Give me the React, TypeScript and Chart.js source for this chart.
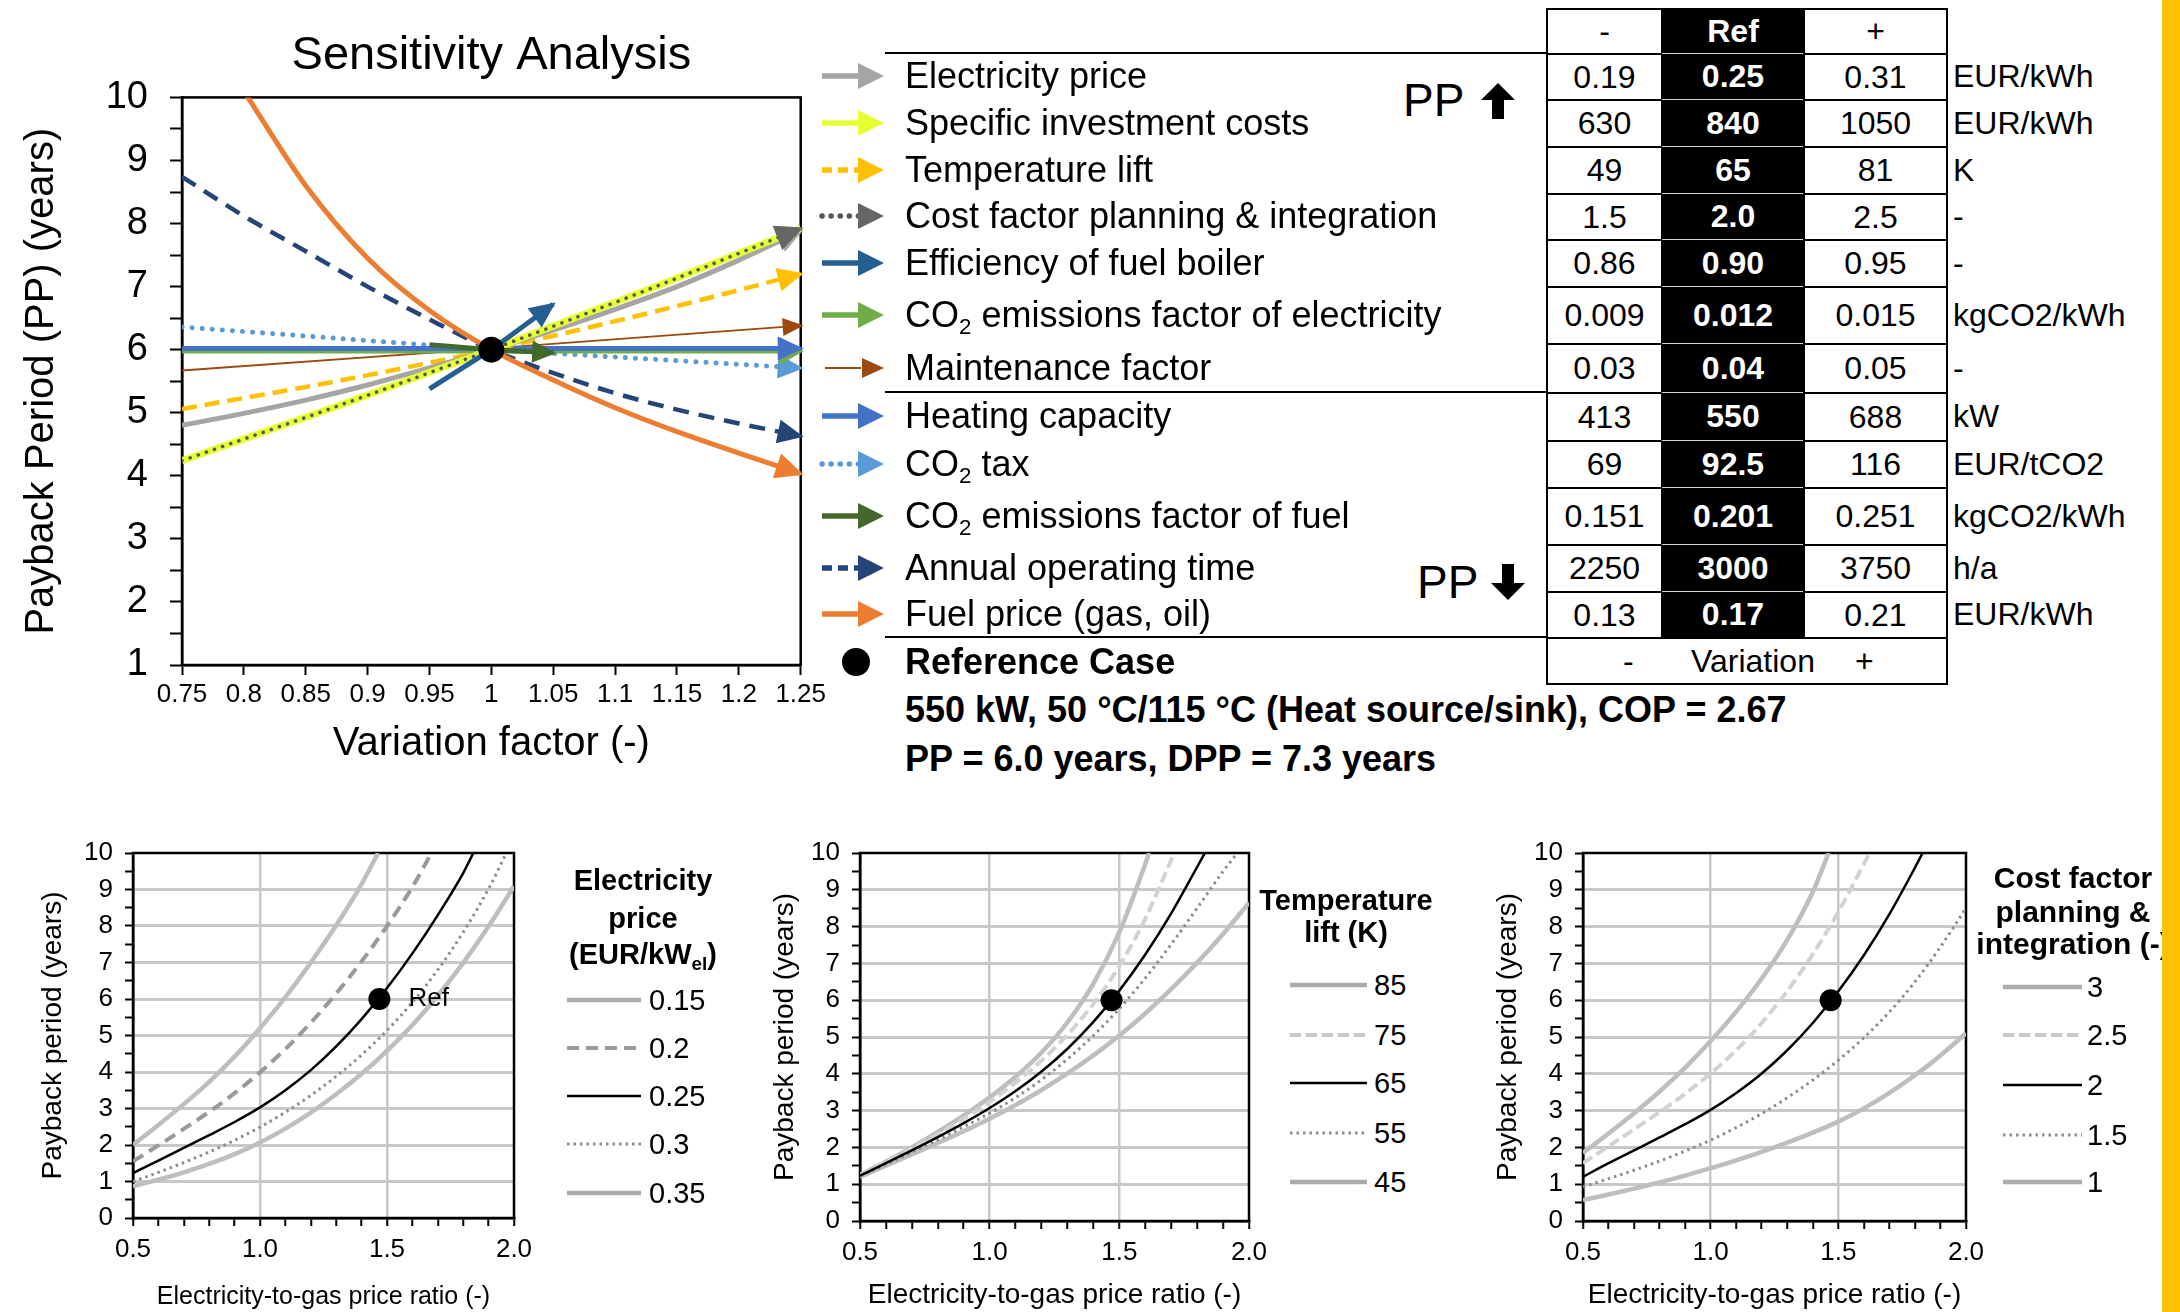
import React, { useEffect, useRef } from 'react';
import { Chart, registerables } from 'chart.js';

Chart.register(...registerables);

const FONT = "'Liberation Sans', Arial, Helvetica, sans-serif";
Chart.defaults.font.family = FONT;
Chart.defaults.color = '#000';

// ---------------- Sensitivity analysis (top chart) data ----------------
const variationTickLabels = ['0.75', '0.8', '0.85', '0.9', '0.95', '1', '1.05', '1.1', '1.15', '1.2', '1.25'];
const variationX = [0.75, 0.8, 0.85, 0.9, 0.95, 1.0, 1.05, 1.1, 1.15, 1.2, 1.25];
const ppElectricityPrice = [4.8, 4.99, 5.2, 5.44, 5.71, 6.0, 6.31, 6.64, 7.0, 7.42, 7.88];
const ppAnnualOperatingTime = [8.74, 8.12, 7.56, 7.0, 6.48, 6.0, 5.63, 5.31, 5.05, 4.83, 4.63];
const fuelX = [0.8, 0.85, 0.9, 0.95, 1.0, 1.05, 1.1, 1.15, 1.2, 1.25];
const ppFuelPrice = [10.1, 8.6, 7.45, 6.62, 6.0, 5.52, 5.08, 4.7, 4.36, 4.03];
const fiveX = [0.75, 0.875, 1.0, 1.125, 1.25];
const ppInvestmentCosts = [4.24, 5.1, 6.0, 6.94, 7.92];
const ppCostFactor = [4.24, 5.1, 6.0, 6.94, 7.92];
const ppTemperatureLift = [5.06, 5.5, 6.0, 6.57, 7.2];
const threeX = [0.75, 1.0, 1.25];
const ppMaintenance = [5.67, 6.02, 6.38];
const ppHeatingCapacity = [6.02, 6.02, 6.02];
const ppCo2Electricity = [5.98, 5.98, 5.98];
const ppCo2Tax = [6.36, 6.0, 5.71];
const shortX = [0.95, 1.0, 1.05];
const ppBoilerEfficiency = [5.38, 6.0, 6.72];
const ppCo2Fuel = [6.08, 6.0, 5.95];
const refVariation = 1.0;
const refPP = 6.0;

// legend / table
const paramNames = [
  'Electricity price', 'Specific investment costs', 'Temperature lift', 'Cost factor planning & integration',
  'Efficiency of fuel boiler', 'CO2 emissions factor of electricity', 'Maintenance factor', 'Heating capacity',
  'CO2 tax', 'CO2 emissions factor of fuel', 'Annual operating time', 'Fuel price (gas, oil)',
];
const lowValues = ['0.19', '630', '49', '1.5', '0.86', '0.009', '0.03', '413', '69', '0.151', '2250', '0.13'];
const refValues = ['0.25', '840', '65', '2.0', '0.90', '0.012', '0.04', '550', '92.5', '0.201', '3000', '0.17'];
const highValues = ['0.31', '1050', '81', '2.5', '0.95', '0.015', '0.05', '688', '116', '0.251', '3750', '0.21'];
const unitLabels = ['EUR/kWh', 'EUR/kWh', 'K', '-', '-', 'kgCO2/kWh', '-', 'kW', 'EUR/tCO2', 'kgCO2/kWh', 'h/a', 'EUR/kWh'];
const headerLabels = ['-', 'Ref', '+'];

// ---------------- Bottom charts data ----------------
const ratioTickLabels = ['0.5', '1.0', '1.5', '2.0'];
const refRatio = 1.47;

const ep015X = [0.5, 0.6, 0.7, 0.8, 0.9, 1.0, 1.1, 1.2, 1.3, 1.4, 1.465];
const ep015Y = [2.0, 2.55, 3.12, 3.73, 4.42, 5.2, 6.05, 7.0, 8.02, 9.15, 10.0];
const ep020X = [0.5, 0.6, 0.7, 0.8, 0.9, 1.0, 1.1, 1.2, 1.3, 1.4, 1.5, 1.6, 1.675];
const ep020Y = [1.55, 1.99, 2.44, 2.91, 3.42, 3.99, 4.63, 5.35, 6.15, 7.03, 8.0, 9.07, 10.0];
const ep025X = [0.5, 0.6, 0.7, 0.8, 0.9, 1.0, 1.1, 1.2, 1.3, 1.4, 1.5, 1.6, 1.7, 1.8, 1.84];
const ep025Y = [1.23, 1.57, 1.92, 2.27, 2.63, 3.03, 3.5, 4.05, 4.7, 5.45, 6.3, 7.25, 8.3, 9.45, 10.0];
const ep030X = [0.5, 0.6, 0.7, 0.8, 0.9, 1.0, 1.1, 1.2, 1.3, 1.4, 1.5, 1.6, 1.7, 1.8, 1.9, 1.97];
const ep030Y = [1.0, 1.25, 1.52, 1.81, 2.13, 2.49, 2.9, 3.36, 3.88, 4.47, 5.14, 5.91, 6.8, 7.83, 9.02, 10.0];
const ep035X = [0.5, 0.6, 0.7, 0.8, 0.9, 1.0, 1.1, 1.2, 1.3, 1.4, 1.5, 1.6, 1.7, 1.8, 1.9, 2.0];
const ep035Y = [0.87, 1.05, 1.25, 1.48, 1.75, 2.07, 2.45, 2.89, 3.39, 3.95, 4.58, 5.29, 6.09, 6.99, 7.99, 9.09];
const elecPriceLabels = ['0.15', '0.2', '0.25', '0.3', '0.35'];

const tl85X = [0.5, 0.6, 0.7, 0.8, 0.9, 1.0, 1.1, 1.2, 1.3, 1.4, 1.5, 1.6, 1.615];
const tl85Y = [1.25, 1.61, 2.0, 2.42, 2.87, 3.36, 3.92, 4.58, 5.4, 6.45, 7.85, 9.7, 10.0];
const tl75X = [0.5, 0.6, 0.7, 0.8, 0.9, 1.0, 1.1, 1.2, 1.3, 1.4, 1.5, 1.6, 1.7, 1.712];
const tl75Y = [1.25, 1.6, 1.97, 2.36, 2.78, 3.24, 3.76, 4.36, 5.06, 5.9, 6.93, 8.21, 9.81, 10.0];
const tl65X = [0.5, 0.6, 0.7, 0.8, 0.9, 1.0, 1.1, 1.2, 1.3, 1.4, 1.5, 1.6, 1.7, 1.8, 1.83];
const tl65Y = [1.23, 1.57, 1.92, 2.28, 2.66, 3.07, 3.53, 4.06, 4.68, 5.41, 6.26, 7.24, 8.36, 9.62, 10.0];
const tl55X = [0.5, 0.6, 0.7, 0.8, 0.9, 1.0, 1.1, 1.2, 1.3, 1.4, 1.5, 1.6, 1.7, 1.8, 1.9, 1.955];
const tl55Y = [1.22, 1.54, 1.87, 2.21, 2.56, 2.93, 3.35, 3.84, 4.4, 5.04, 5.77, 6.6, 7.52, 8.5, 9.5, 10.0];
const tl45X = [0.5, 0.6, 0.7, 0.8, 0.9, 1.0, 1.1, 1.2, 1.3, 1.4, 1.5, 1.6, 1.7, 1.8, 1.9, 2.0];
const tl45Y = [1.2, 1.5, 1.81, 2.12, 2.44, 2.78, 3.15, 3.56, 4.01, 4.5, 5.04, 5.64, 6.3, 7.02, 7.8, 8.65];
const tempLiftLabels = ['85', '75', '65', '55', '45'];

const cf3X = [0.5, 0.6, 0.7, 0.8, 0.9, 1.0, 1.1, 1.2, 1.3, 1.4, 1.462];
const cf3Y = [1.85, 2.38, 2.93, 3.52, 4.17, 4.89, 5.69, 6.59, 7.64, 8.94, 10.0];
const cf25X = [0.5, 0.6, 0.7, 0.8, 0.9, 1.0, 1.1, 1.2, 1.3, 1.4, 1.5, 1.6, 1.622];
const cf25Y = [1.57, 2.03, 2.49, 2.96, 3.46, 4.01, 4.64, 5.38, 6.25, 7.25, 8.4, 9.7, 10.0];
const cf2X = [0.5, 0.6, 0.7, 0.8, 0.9, 1.0, 1.1, 1.2, 1.3, 1.4, 1.5, 1.6, 1.7, 1.8, 1.83];
const cf2Y = [1.2, 1.57, 1.92, 2.27, 2.63, 3.02, 3.48, 4.01, 4.64, 5.38, 6.24, 7.22, 8.34, 9.6, 10.0];
const cf15X = [0.5, 0.6, 0.7, 0.8, 0.9, 1.0, 1.1, 1.2, 1.3, 1.4, 1.5, 1.6, 1.7, 1.8, 1.9, 2.0];
const cf15Y = [0.93, 1.15, 1.38, 1.63, 1.9, 2.2, 2.54, 2.92, 3.35, 3.83, 4.37, 4.98, 5.68, 6.5, 7.45, 8.5];
const cf1X = [0.5, 0.6, 0.7, 0.8, 0.9, 1.0, 1.1, 1.2, 1.3, 1.4, 1.5, 1.6, 1.7, 1.8, 1.9, 2.0];
const cf1Y = [0.57, 0.72, 0.88, 1.05, 1.235, 1.435, 1.65, 1.88, 2.13, 2.4, 2.7, 3.06, 3.48, 3.96, 4.5, 5.1];
const costFactorLabels = ['3', '2.5', '2', '1.5', '1'];

// ---------------- helpers ----------------
const pts = (xs: number[], ys: number[]) => xs.map((x, i) => ({ x, y: ys[i] }));

const arrowPlugin = {
  id: 'arrowheads',
  afterDatasetDraw(chart: any, args: any) {
    const ds = chart.data.datasets[args.index];
    if (!ds.arrowLen) return;
    const els = args.meta.data;
    if (!els || els.length < 2) return;
    const p = els[els.length - 1];
    const q = els[els.length - 2];
    let dx = p.x - q.x;
    let dy = p.y - q.y;
    if (p.cp1x !== undefined && Math.hypot(p.x - p.cp1x, p.y - p.cp1y) > 2) {
      dx = p.x - p.cp1x;
      dy = p.y - p.cp1y;
    }
    const d = Math.hypot(dx, dy) || 1;
    const ux = dx / d, uy = dy / d;
    const ext = ds.arrowExt ?? 3;
    const tx = p.x + ux * ext, ty = p.y + uy * ext;
    const bx = tx - ux * ds.arrowLen, by = ty - uy * ds.arrowLen;
    const hw = ds.arrowWidth / 2;
    const ctx = chart.ctx;
    ctx.save();
    ctx.fillStyle = ds.arrowColor || ds.borderColor;
    ctx.beginPath();
    ctx.moveTo(tx, ty);
    ctx.lineTo(bx - uy * hw, by + ux * hw);
    ctx.lineTo(bx + uy * hw, by - ux * hw);
    ctx.closePath();
    ctx.fill();
    ctx.restore();
  },
};

const framePlugin = {
  id: 'frame',
  beforeDatasetsDraw(chart: any, _args: any, opts: any) {
    const { left, right, top, bottom } = chart.chartArea;
    const ctx = chart.ctx;
    ctx.save();
    ctx.strokeStyle = opts.color || '#000';
    ctx.lineWidth = opts.width || 2;
    ctx.strokeRect(left, top, right - left, bottom - top);
    ctx.restore();
  },
};

const refLabelPlugin = {
  id: 'refLabel',
  afterDatasetsDraw(chart: any, _args: any, opts: any) {
    if (!opts || !opts.text) return;
    const ctx = chart.ctx;
    const x = chart.scales.x.getPixelForValue(opts.x);
    const y = chart.scales.y.getPixelForValue(opts.y);
    ctx.save();
    ctx.fillStyle = '#000';
    ctx.font = `${opts.size}px ${FONT}`;
    ctx.textAlign = 'left';
    ctx.textBaseline = 'middle';
    ctx.fillText(opts.text, x, y);
    ctx.restore();
  },
};

// style list for main series
type SeriesStyle = {
  key: string; color: string; width: number; dash?: number[]; round?: boolean;
  arrowLen: number; arrowWidth: number; arrowColor?: string; smooth?: boolean;
};
const styleFor: Record<string, SeriesStyle> = {
  elec: { key: 'elec', color: '#A5A5A5', width: 5, arrowLen: 26, arrowWidth: 24, smooth: true },
  invest: { key: 'invest', color: '#E6FF33', width: 7, arrowLen: 26, arrowWidth: 24, smooth: true },
  temp: { key: 'temp', color: '#FFC000', width: 4.5, dash: [15, 8], arrowLen: 26, arrowWidth: 24, smooth: true },
  cost: { key: 'cost', color: '#555555', width: 3.5, dash: [0.1, 8.5], round: true, arrowLen: 28, arrowWidth: 26, arrowColor: '#666666', smooth: true },
  eff: { key: 'eff', color: '#255E91', width: 5, arrowLen: 26, arrowWidth: 24 },
  co2el: { key: 'co2el', color: '#70AD47', width: 5, arrowLen: 24, arrowWidth: 28 },
  maint: { key: 'maint', color: '#9E480E', width: 1.8, arrowLen: 21, arrowWidth: 18 },
  heat: { key: 'heat', color: '#4472C4', width: 5, arrowLen: 26, arrowWidth: 24 },
  tax: { key: 'tax', color: '#5B9BD5', width: 5, dash: [0.1, 10], round: true, arrowLen: 26, arrowWidth: 24 },
  co2fuel: { key: 'co2fuel', color: '#43682B', width: 5, arrowLen: 24, arrowWidth: 22 },
  annual: { key: 'annual', color: '#264478', width: 4.5, dash: [16, 10], arrowLen: 26, arrowWidth: 24, smooth: true },
  fuel: { key: 'fuel', color: '#ED7D31', width: 5, arrowLen: 28, arrowWidth: 26, smooth: true },
};
const legendKeys = ['elec', 'invest', 'temp', 'cost', 'eff', 'co2el', 'maint', 'heat', 'tax', 'co2fuel', 'annual', 'fuel'];

function styledLine(label: string, data: any[], s: SeriesStyle) {
  return {
    label, data,
    borderColor: s.color, backgroundColor: s.color, borderWidth: s.width,
    borderDash: s.dash || [], borderCapStyle: s.round ? 'round' : 'butt',
    pointRadius: 0, pointHoverRadius: 0, fill: false,
    cubicInterpolationMode: s.smooth ? 'monotone' : 'default', tension: 0,
    arrowLen: s.arrowLen, arrowWidth: s.arrowWidth, arrowColor: s.arrowColor,
  };
}

function makeMainConfig(): any {
  const layers = [
    styledLine(paramNames[10], pts(variationX, ppAnnualOperatingTime), styleFor.annual),
    styledLine(paramNames[11], pts(fuelX, ppFuelPrice), styleFor.fuel),
    styledLine(paramNames[8], pts(threeX, ppCo2Tax), styleFor.tax),
    styledLine(paramNames[6], pts(threeX, ppMaintenance), styleFor.maint),
    styledLine(paramNames[5], pts(threeX, ppCo2Electricity), styleFor.co2el),
    styledLine(paramNames[7], pts(threeX, ppHeatingCapacity), styleFor.heat),
    styledLine(paramNames[2], pts(fiveX, ppTemperatureLift), styleFor.temp),
    styledLine(paramNames[0], pts(variationX, ppElectricityPrice), styleFor.elec),
    styledLine(paramNames[1], pts(fiveX, ppInvestmentCosts), styleFor.invest),
    styledLine(paramNames[3], pts(fiveX, ppCostFactor), styleFor.cost),
    styledLine(paramNames[9], pts(shortX, ppCo2Fuel), styleFor.co2fuel),
    styledLine(paramNames[4], pts(shortX, ppBoilerEfficiency), styleFor.eff),
    {
      label: 'Reference Case', data: [{ x: refVariation, y: refPP }], showLine: false,
      pointRadius: 13, pointHoverRadius: 13, pointBackgroundColor: '#000', pointBorderColor: '#000', borderWidth: 0,
    },
  ];
  const n = layers.length;
  const datasets = layers.map((d: any, i) => ({ ...d, order: n - i }));
  return {
    type: 'line',
    data: { datasets },
    options: {
      animation: false, responsive: false, maintainAspectRatio: false, events: [],
      layout: { padding: { left: 0, right: 27, top: 0, bottom: 32 } },
      plugins: {
        legend: { display: false },
        tooltip: { enabled: false },
        title: {
          display: true, text: 'Sensitivity Analysis', fullSize: false, color: '#000',
          font: { size: 47, weight: 'normal', family: FONT }, padding: { top: 28, bottom: 13 },
        },
        frame: { width: 2.5, color: '#000' },
      },
      scales: {
        x: {
          type: 'linear', min: 0.75, max: 1.25,
          ticks: {
            stepSize: 0.05, autoSkip: false, maxRotation: 0, minRotation: 0, padding: 4,
            font: { size: 26 }, color: '#000',
            callback: (v: number) => variationTickLabels[Math.round((v - 0.75) / 0.05)] ?? '',
          },
          grid: { drawOnChartArea: false, drawTicks: true, tickLength: 10, tickColor: '#000', tickWidth: 2 },
          border: { display: true, color: '#000', width: 2.5 },
          title: { display: true, text: 'Variation factor (-)', font: { size: 40 }, color: '#000', padding: 0 },
          afterFit: (s: any) => { s.height = 103; },
        },
        y: {
          type: 'linear', min: 1, max: 10,
          ticks: {
            stepSize: 0.5, autoSkip: false, padding: 22, font: { size: 38 }, color: '#000',
            callback: (v: number) => (Number.isInteger(v) ? String(v) : ''),
          },
          grid: { drawOnChartArea: false, drawTicks: true, tickLength: 12, tickColor: '#000', tickWidth: 2 },
          border: { display: true, color: '#000', width: 2.5 },
          title: { display: true, text: 'Payback Period (PP) (years)', font: { size: 40 }, color: '#000', padding: { top: 18, bottom: 0 } },
          afterFit: (s: any) => { s.width = 182; },
        },
      },
    },
    plugins: [framePlugin, arrowPlugin],
  };
}

type CurveStyle = { color: string; width: number; dash?: number[]; swatch?: string };
const lightSolid: CurveStyle = { color: '#BEBEBE', width: 4.5, swatch: '#ABABAB' };
const darkDashed: CurveStyle = { color: '#9A9A9A', width: 4, dash: [12, 7] };
const paleDashed: CurveStyle = { color: '#D2D2D2', width: 4, dash: [11, 5], swatch: '#C8C8C8' };
const greyDotted: CurveStyle = { color: '#8C8C8C', width: 3, dash: [2.5, 4] };
const blackSolid: CurveStyle = { color: '#000000', width: 2.5, swatch: '#000000' };

function curve(label: string, xs: number[], ys: number[], s: CurveStyle) {
  return {
    label, data: pts(xs, ys), borderColor: s.color, backgroundColor: s.color, borderWidth: s.width,
    borderDash: s.dash || [], pointRadius: 0, pointHoverRadius: 0, fill: false,
    cubicInterpolationMode: 'monotone',
  };
}

type Geom = { padTop: number; padRight: number; xHeight: number; xTitleSize: number; yTitlePad: number };

function makeBottomConfig(layers: any[], geom: Geom, refLabel: any): any {
  const all = [
    ...layers,
    {
      label: 'Ref', data: [{ x: refRatio, y: refPP }], showLine: false,
      pointRadius: 11, pointHoverRadius: 11, pointBackgroundColor: '#000', pointBorderColor: '#000', borderWidth: 0,
    },
  ];
  const n = all.length;
  const datasets = all.map((d: any, i) => ({ ...d, order: n - i }));
  return {
    type: 'line',
    data: { datasets },
    options: {
      animation: false, responsive: false, maintainAspectRatio: false, events: [],
      layout: { padding: { left: 0, right: geom.padRight, top: geom.padTop, bottom: 0 } },
      plugins: {
        legend: { display: false }, tooltip: { enabled: false },
        frame: { width: 2.5, color: '#000' },
        refLabel,
      },
      scales: {
        x: {
          type: 'linear', min: 0.5, max: 2.0,
          ticks: {
            stepSize: 0.1, autoSkip: false, maxRotation: 0, minRotation: 0, padding: 8,
            font: { size: 26 }, color: '#000',
            callback: (v: number) => {
              const r = Math.round(v * 10) / 10;
              const idx = [0.5, 1.0, 1.5, 2.0].indexOf(r);
              return idx >= 0 ? ratioTickLabels[idx] : '';
            },
          },
          grid: {
            color: (c: any) => {
              const r = c.tick ? Math.round(c.tick.value * 10) / 10 : 0;
              return r === 1 || r === 1.5 ? '#C8C8C8' : 'rgba(0,0,0,0)';
            },
            lineWidth: 2.5, drawTicks: true, tickLength: 8, tickColor: '#000', tickWidth: 2,
          },
          border: { display: true, color: '#000', width: 2.5 },
          title: { display: true, text: 'Electricity-to-gas price ratio (-)', font: { size: geom.xTitleSize }, color: '#000', padding: 0 },
          afterFit: (s: any) => { s.height = geom.xHeight; },
        },
        y: {
          type: 'linear', min: 0, max: 10,
          ticks: {
            stepSize: 0.5, autoSkip: false, padding: 12, font: { size: 26 }, color: '#000',
            callback: (v: number) => (Number.isInteger(v) ? String(v) : ''),
          },
          grid: {
            color: (c: any) => {
              const v = c.tick ? c.tick.value : 0;
              return Number.isInteger(v) && v > 0 && v < 10 ? '#C8C8C8' : 'rgba(0,0,0,0)';
            },
            lineWidth: 3, drawTicks: true, tickLength: 8, tickColor: '#000', tickWidth: 2,
          },
          border: { display: true, color: '#000', width: 2.5 },
          title: { display: true, text: 'Payback period (years)', font: { size: 28 }, color: '#000', padding: { top: geom.yTitlePad, bottom: 0 } },
          afterFit: (s: any) => { s.width = 133; },
        },
      },
    },
    plugins: [framePlugin, refLabelPlugin],
  };
}

function makeElecConfig() {
  return makeBottomConfig([
    curve(elecPriceLabels[0], ep015X, ep015Y, lightSolid),
    curve(elecPriceLabels[4], ep035X, ep035Y, lightSolid),
    curve(elecPriceLabels[1], ep020X, ep020Y, darkDashed),
    curve(elecPriceLabels[3], ep030X, ep030Y, greyDotted),
    curve(elecPriceLabels[2], ep025X, ep025Y, blackSolid),
  ], { padTop: 53, padRight: 31, xHeight: 94, xTitleSize: 25, yTitlePad: 36 }, { text: 'Ref', x: 1.585, y: refPP, size: 26 });
}
function makeTempConfig() {
  return makeBottomConfig([
    curve(tempLiftLabels[0], tl85X, tl85Y, lightSolid),
    curve(tempLiftLabels[4], tl45X, tl45Y, lightSolid),
    curve(tempLiftLabels[1], tl75X, tl75Y, paleDashed),
    curve(tempLiftLabels[3], tl55X, tl55Y, greyDotted),
    curve(tempLiftLabels[2], tl65X, tl65Y, blackSolid),
  ], { padTop: 53, padRight: 31, xHeight: 91, xTitleSize: 28, yTitlePad: 41 }, {});
}
function makeCostConfig() {
  return makeBottomConfig([
    curve(costFactorLabels[0], cf3X, cf3Y, lightSolid),
    curve(costFactorLabels[4], cf1X, cf1Y, lightSolid),
    curve(costFactorLabels[1], cf25X, cf25Y, paleDashed),
    curve(costFactorLabels[3], cf15X, cf15Y, greyDotted),
    curve(costFactorLabels[2], cf2X, cf2Y, blackSolid),
  ], { padTop: 53, padRight: 31, xHeight: 91, xTitleSize: 28, yTitlePad: 41 }, {});
}

function ChartCanvas({ left, top, width, height, make }: any) {
  const ref = useRef<HTMLCanvasElement | null>(null);
  useEffect(() => {
    const chart = new Chart(ref.current as HTMLCanvasElement, make());
    return () => chart.destroy();
  }, []);
  return (
    <canvas ref={ref} width={width} height={height}
      style={{ position: 'absolute', left, top, width, height, display: 'block' }} />
  );
}

function withSub(text: string) {
  const i = text.indexOf('CO2');
  if (i < 0) return text;
  return (
    <>
      {text.slice(0, i)}CO<sub style={{ fontSize: '0.62em', verticalAlign: '-0.3em', lineHeight: 0 }}>2</sub>{text.slice(i + 3)}
    </>
  );
}

function LegendArrow({ s, left, cy }: { s: SeriesStyle; left: number; cy: number }) {
  const thin = s.width < 3;
  return (
    <svg width={64} height={30} style={{ position: 'absolute', left, top: cy - 15, overflow: 'visible' }}>
      <line x1={thin ? 4 : 1} y1={15} x2={40} y2={15} stroke={s.color} strokeWidth={thin ? 2.2 : 5.5}
        strokeDasharray={s.dash ? (s.round ? '0.1 9' : '10 6') : undefined}
        strokeLinecap={s.round ? 'round' : 'butt'} />
      <polygon points={thin ? '41,5 63,15 41,25' : '37,2 63,15 37,28'} fill={s.arrowColor || s.color} />
    </svg>
  );
}

function BigArrow({ left, top, down }: { left: number; top: number; down?: boolean }) {
  return (
    <svg width={34} height={36} style={{ position: 'absolute', left, top, transform: down ? 'scaleY(-1)' : undefined }}>
      <polygon points="17,0 34,17 23,17 23,36 11,36 11,17 0,17" fill="#000" />
    </svg>
  );
}

const rowEdges = [8, 53, 99, 146, 193, 239, 286, 343, 392, 440, 487, 544, 591, 637, 685];
const colEdges = [1546, 1661, 1803, 1946];

function TopLegendAndTable() {
  const items: any[] = [];
  [53, 392, 637].forEach((y, i) => {
    items.push(<div key={'ln' + i} style={{ position: 'absolute', left: 885, top: y - 1, width: 1546 - 885, height: 2, background: '#000' }} />);
  });
  legendKeys.forEach((k, i) => {
    const cy = (rowEdges[i + 1] + rowEdges[i + 2]) / 2;
    items.push(<LegendArrow key={'ar' + i} s={styleFor[k]} left={821} cy={cy} />);
    items.push(
      <div key={'tx' + i} style={{ position: 'absolute', left: 905, top: cy - 22, height: 44, lineHeight: '44px', fontSize: 36, whiteSpace: 'nowrap' }}>
        {withSub(paramNames[i])}
      </div>,
    );
  });
  items.push(<div key="ppu" style={{ position: 'absolute', left: 1403, top: 100 - 27, lineHeight: '54px', fontSize: 46 }}>PP</div>);
  items.push(<BigArrow key="ppua" left={1481} top={83} />);
  items.push(<div key="ppd" style={{ position: 'absolute', left: 1417, top: 582 - 27, lineHeight: '54px', fontSize: 46 }}>PP</div>);
  items.push(<BigArrow key="ppda" left={1491} top={564} down />);

  const cols = [lowValues, refValues, highValues];
  for (let r = 0; r < 13; r++) {
    for (let c = 0; c < 3; c++) {
      const isRef = c === 1;
      const text = r === 0 ? headerLabels[c] : cols[c][r - 1];
      const topBorder = isRef && r > 0 ? '1px solid #d6d6d6' : '2px solid #000';
      items.push(
        <div key={`c${r}_${c}`} style={{
          position: 'absolute', left: colEdges[c], top: rowEdges[r],
          width: colEdges[c + 1] - colEdges[c] + (c === 2 ? 2 : 0), height: rowEdges[r + 1] - rowEdges[r],
          boxSizing: 'border-box', borderTop: topBorder, borderLeft: '2px solid #000',
          borderRight: c === 2 ? '2px solid #000' : undefined,
          background: isRef ? '#000' : '#fff', color: isRef ? '#fff' : '#000',
          fontWeight: isRef ? 'bold' : 'normal', fontSize: 32,
          display: 'flex', alignItems: 'center', justifyContent: 'center',
        }}>{text}</div>,
      );
    }
    if (r > 0) {
      const cy = (rowEdges[r] + rowEdges[r + 1]) / 2;
      items.push(
        <div key={'u' + r} style={{ position: 'absolute', left: 1953, top: cy - 20, lineHeight: '40px', fontSize: 32, whiteSpace: 'nowrap' }}>
          {unitLabels[r - 1]}
        </div>,
      );
    }
  }
  items.push(
    <div key="var" style={{
      position: 'absolute', left: 1546, top: 637, width: 1948 - 1546, height: 685 - 637,
      boxSizing: 'border-box', border: '2px solid #000', fontSize: 32,
    }}>
      <span style={{ position: 'absolute', left: 1627 - 1546 - 6, top: 2, lineHeight: '40px' }}>-</span>
      <span style={{ position: 'absolute', left: 1689 - 1546, top: 2, lineHeight: '40px' }}>Variation</span>
      <span style={{ position: 'absolute', left: 1863 - 1546 - 10, top: 2, lineHeight: '40px' }}>+</span>
    </div>,
  );
  items.push(<div key="refdot" style={{ position: 'absolute', left: 856 - 14, top: 662 - 14, width: 28, height: 28, borderRadius: '50%', background: '#000' }} />);
  const refLines = ['Reference Case', '550 kW, 50 °C/115 °C (Heat source/sink), COP = 2.67', 'PP = 6.0 years, DPP = 7.3 years'];
  [662, 710, 759].forEach((cy, i) => {
    items.push(
      <div key={'rl' + i} style={{ position: 'absolute', left: 905, top: cy - 22, lineHeight: '44px', fontSize: 36, fontWeight: 'bold', whiteSpace: 'nowrap' }}>
        {refLines[i]}
      </div>,
    );
  });
  return <>{items}</>;
}

function Swatch({ s, left, cy, width }: { s: CurveStyle; left: number; cy: number; width: number }) {
  return (
    <svg width={width} height={12} style={{ position: 'absolute', left, top: cy - 6 }}>
      <line x1={0} y1={6} x2={width} y2={6} stroke={s.swatch || s.color} strokeWidth={s.width}
        strokeDasharray={s.dash ? s.dash.join(' ') : undefined} />
    </svg>
  );
}

function BottomLegend({ title, titleSize, centerX, titleYs, labels, styles, swLeft, swWidth, labelLeft, rowYs }: any) {
  return (
    <>
      {title.map((t: any, i: number) => (
        <div key={'t' + i} style={{
          position: 'absolute', left: centerX - 150, width: 300, top: titleYs[i] - 18, lineHeight: '36px',
          textAlign: 'center', fontSize: titleSize, fontWeight: 'bold', whiteSpace: 'nowrap',
        }}>{t}</div>
      ))}
      {labels.map((l: string, i: number) => (
        <React.Fragment key={'l' + i}>
          <Swatch s={styles[i]} left={swLeft} cy={rowYs[i]} width={swWidth} />
          <div style={{ position: 'absolute', left: labelLeft, top: rowYs[i] - 18, lineHeight: '36px', fontSize: 29 }}>{l}</div>
        </React.Fragment>
      ))}
    </>
  );
}

export default function App() {
  const legendStyles = [lightSolid, darkDashed, blackSolid, greyDotted, lightSolid];
  const legendStylesPale = [lightSolid, paleDashed, blackSolid, greyDotted, lightSolid];
  return (
    <div style={{
      position: 'absolute', left: 0, top: 0, width: 2180, height: 1312, background: '#fff',
      overflow: 'hidden', fontFamily: FONT, color: '#000',
    }}>
      <ChartCanvas left={0} top={0} width={830} height={800} make={makeMainConfig} />
      <ChartCanvas left={0} top={800} width={545} height={512} make={makeElecConfig} />
      <ChartCanvas left={727} top={800} width={553} height={512} make={makeTempConfig} />
      <ChartCanvas left={1450} top={800} width={547} height={512} make={makeCostConfig} />
      <TopLegendAndTable />
      <BottomLegend
        title={['Electricity', 'price', <>(EUR/kW<sub style={{ fontSize: '0.65em', verticalAlign: '-0.3em', lineHeight: 0 }}>el</sub>)</>]}
        titleSize={29}
        centerX={643} titleYs={[880, 918, 954]} labels={elecPriceLabels} styles={legendStyles}
        swLeft={567} swWidth={74} labelLeft={649} rowYs={[1000, 1048, 1096, 1144, 1193]} />
      <BottomLegend
        title={['Temperature', 'lift (K)']}
        titleSize={29}
        centerX={1346} titleYs={[900, 932]} labels={tempLiftLabels} styles={legendStylesPale}
        swLeft={1290} swWidth={77} labelLeft={1374} rowYs={[985, 1035, 1083, 1133, 1182]} />
      <BottomLegend
        title={['Cost factor', 'planning &', 'integration (-)']}
        titleSize={30}
        centerX={2073} titleYs={[878, 912, 944]} labels={costFactorLabels} styles={legendStylesPale}
        swLeft={2003} swWidth={79} labelLeft={2087} rowYs={[987, 1035, 1085, 1135, 1182]} />
      <div style={{ position: 'absolute', left: 2162, top: 0, width: 18, height: 1312, background: '#FFC000' }} />
    </div>
  );
}
